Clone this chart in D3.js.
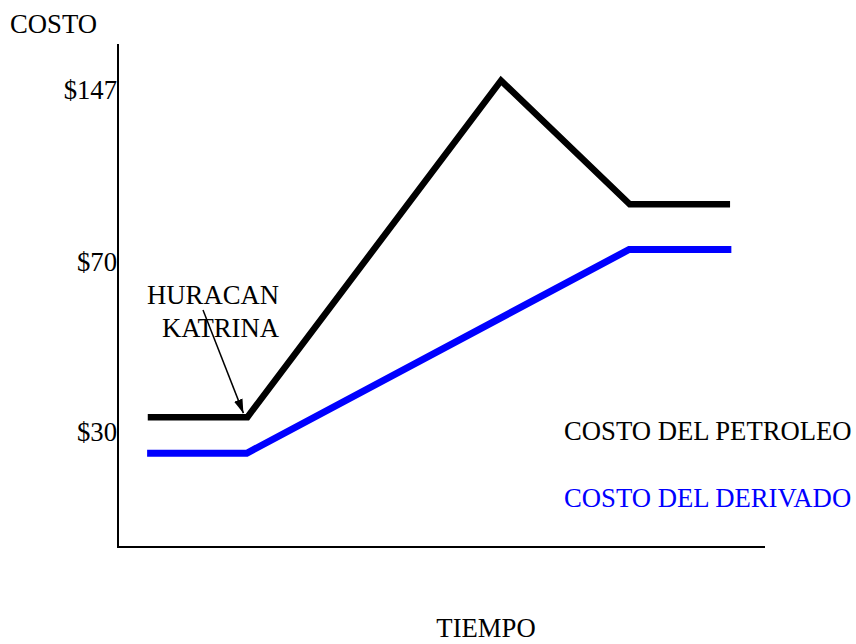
<!DOCTYPE html>
<html>
<head>
<meta charset="utf-8">
<script src="https://cdn.jsdelivr.net/npm/d3@7"></script>
<style>
	body { margin: 0; background: #fff; }
	text { font-family: "Liberation Serif", "Times New Roman", serif; }
</style>
</head>
<body>
<div id="chart"></div>
<script>
// time is schematic (no labels), cost in dollars
var tiempo = [ 4.6, 20, 59.2, 79.1, 94.6 ];
var petroleo = [ 33.5, 33.5, 151.2, 95.8, 95.8 ];
var tiempoDerivado = [ 4.5, 19.9, 79.0, 94.8 ];
var derivado = [ 25, 25, 75.6, 75.6 ];
var yTicks = [ 30, 70, 147 ];
var yTickLabels = [ "$30", "$70", "$147" ];
var serieLabels = [ "COSTO DEL PETROLEO", "COSTO DEL DERIVADO" ];
var serieColors = [ "#000000", "#0000ff" ];

function drawChart(identifier) {
	var width = 856, height = 644, fontSize = 26.7;
	var axisLeftX = 118, axisBottomY = 547, axisTopY = 44, axisRightX = 765;

	var svg = d3.select(identifier).append("svg").attr("width", width)
			.attr("height", height);

	var x = d3.scaleLinear().domain([ 0, 100 ]).range([ axisLeftX, axisRightX ]);
	// the picture's value axis is not linear, so use a piecewise scale
	var y = d3.scaleLinear().domain([ 30, 70, 147 ]).range([ 432, 262, 90 ]);

	// axis lines
	svg.append("line").attr("x1", axisLeftX).attr("x2", axisLeftX)
			.attr("y1", axisTopY).attr("y2", axisBottomY + 1)
			.attr("stroke", "#000").attr("stroke-width", 2);
	svg.append("line").attr("x1", axisLeftX - 1).attr("x2", axisRightX)
			.attr("y1", axisBottomY).attr("y2", axisBottomY)
			.attr("stroke", "#000").attr("stroke-width", 2);

	var yAxis = svg.append("g").attr("transform", "translate(" + axisLeftX + ",0)")
			.call(d3.axisLeft(y).tickValues(yTicks).tickSize(0).tickPadding(1)
					.tickFormat(function(d, i) {
						return yTickLabels[i];
					}));
	yAxis.select(".domain").remove();
	yAxis.selectAll("text").attr("font-family", "Liberation Serif, serif")
			.attr("font-size", fontSize).attr("fill", "#000");

	var line = d3.line().x(function(d) {
		return x(d[0]);
	}).y(function(d) {
		return y(d[1]);
	});

	var series = [ d3.zip(tiempo, petroleo), d3.zip(tiempoDerivado, derivado) ];
	var widths = [ 6.5, 7 ];

	svg.selectAll("path.serie").data(series).enter().append("path")
			.attr("class", "serie").attr("d", line).attr("fill", "none")
			.attr("stroke", function(d, i) {
				return serieColors[i];
			}).attr("stroke-width", function(d, i) {
				return widths[i];
			}).attr("stroke-linejoin", "miter").attr("stroke-linecap", "butt");

	// labels
	svg.append("text").attr("x", 10).attr("y", 33).attr("font-size", fontSize)
			.text("COSTO");
	svg.append("text").attr("x", 486).attr("y", 637).attr("font-size", fontSize)
			.attr("text-anchor", "middle").text("TIEMPO");

	svg.selectAll("text.serie").data(serieLabels).enter().append("text")
			.attr("class", "serie").attr("x", 564).attr("y", function(d, i) {
				return 440 + i * 67;
			}).attr("font-size", fontSize).attr("fill", function(d, i) {
				return serieColors[i];
			}).text(function(d) {
				return d;
			});

	// hurricane annotation
	svg.append("text").attr("x", 279).attr("y", 304).attr("font-size", fontSize)
			.attr("text-anchor", "end").text("HURACAN");
	svg.append("text").attr("x", 279).attr("y", 337).attr("font-size", fontSize)
			.attr("text-anchor", "end").text("KATRINA");

	svg.append("defs").append("marker").attr("id", "flecha")
			.attr("viewBox", "0 0 14 10").attr("refX", 14).attr("refY", 5)
			.attr("markerWidth", 14).attr("markerHeight", 10)
			.attr("markerUnits", "userSpaceOnUse").attr("orient", "auto")
			.append("path").attr("d", "M0,0.5L14,5L0,9.5z").attr("fill", "#000");

	var tipX = x(tiempo[1]) - 4, tipY = y(petroleo[1]) - 4;
	svg.append("line").attr("x1", 203).attr("y1", 310).attr("x2", tipX)
			.attr("y2", tipY).attr("stroke", "#000").attr("stroke-width", 1.5)
			.attr("marker-end", "url(#flecha)");
}

drawChart("#chart");
</script>
</body>
</html>
